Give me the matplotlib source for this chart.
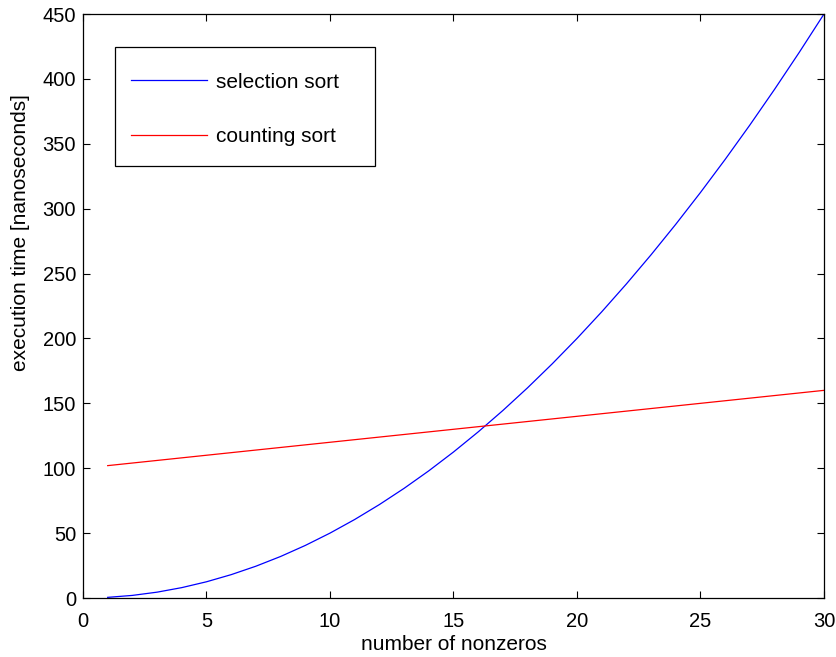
import matplotlib
matplotlib.use("Agg")
import matplotlib.pyplot as plt
from matplotlib.patches import Rectangle

plt.rcParams['font.family'] = ['Liberation Sans', 'DejaVu Sans']

n = list(range(1, 31))
selection_sort = [0.5, 2, 4.5, 8, 12.5, 18, 24.5, 32, 40.5, 50,
                  60.5, 72, 84.5, 98, 112.5, 128, 144.5, 162, 180.5, 200,
                  220.5, 242, 264.5, 288, 312.5, 338, 364.5, 392, 420.5, 450]
counting_sort = [102, 104, 106, 108, 110, 112, 114, 116, 118, 120,
                 122, 124, 126, 128, 130, 132, 134, 136, 138, 140,
                 142, 144, 146, 148, 150, 152, 154, 156, 158, 160]
xticks = [0, 5, 10, 15, 20, 25, 30]
yticks = [0, 50, 100, 150, 200, 250, 300, 350, 400, 450]

fig = plt.figure(figsize=(8.37, 6.57), dpi=100)
ax = fig.add_axes([83/837, 1-598/657, 741/837, 584/657])

ax.plot(n, selection_sort, color='#0000ff', lw=0.9, label='selection sort')
ax.plot(n, counting_sort, color='#ff0000', lw=0.9, label='counting sort')

ax.set_xlim(0, 30)
ax.set_ylim(0, 450)
ax.set_xticks(xticks)
ax.set_yticks(yticks)
ax.tick_params(direction='in', length=5, width=0.8, top=True, right=True,
               labelsize=14.5)
ax.tick_params(axis='x', pad=10)
ax.tick_params(axis='y', pad=5)
for s in ax.spines.values():
    s.set_linewidth(0.9)

ax.set_xlabel('number of nonzeros', fontsize=15)
ax.set_ylabel('execution time [nanoseconds]', fontsize=15)
ax.xaxis.set_label_coords(0.5, -0.063)
ax.yaxis.set_label_coords(-0.071, 0.625)

# legend frame (axes fraction), legend entries placed inside it
W, H = 741, 584
def ax_x(px):
    return (px - 83) / W
def ax_y(py):
    return (598 - py) / H

frame = Rectangle((ax_x(115), ax_y(166)), ax_x(375) - ax_x(115),
                  ax_y(47) - ax_y(166), transform=ax.transAxes,
                  facecolor='white', edgecolor='black', lw=0.9, zorder=4)
ax.add_patch(frame)
leg = ax.legend(loc='upper left', bbox_to_anchor=(ax_x(131), ax_y(72.5)),
                borderaxespad=0, borderpad=0, fontsize=15,
                handlelength=3.65, handletextpad=0.43, labelspacing=1.7,
                frameon=False)
leg.set_zorder(5)

fig.savefig('out.png', dpi=100)
